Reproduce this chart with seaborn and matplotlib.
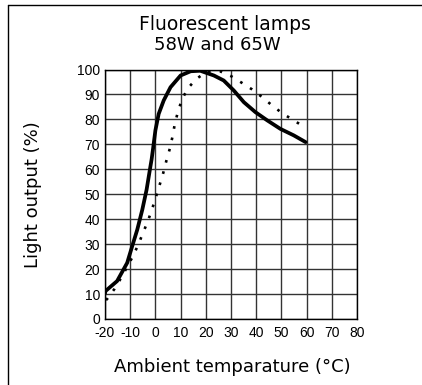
import matplotlib
matplotlib.use("Agg")
import matplotlib.pyplot as plt
import seaborn as sns
import pandas as pd

# Light output versus ambient temperature for 58W and 65W fluorescent lamps
temp_58w = [-20, -19.8, -15.2, -11.2, -9.2, -7.2, -5.2, -3.5, -2.2, -1.5, -0.9,
            0, 1.3, 3.3, 6, 10, 14, 17.8, 23.2, 27.1, 31.1, 35.1, 39.7, 44.4,
            49.6, 54.9, 59.6]
light_58w = [10.3, 11.2, 15.2, 22.5, 29.2, 35.8, 43.8, 51.8, 59.8, 64, 68.5,
             75.6, 82.2, 87.6, 92.9, 97.6, 99.3, 99.5, 97.6, 95.6, 91.6, 86.9,
             82.9, 79.6, 76.2, 73.6, 70.9]

temp_65w = [-19.6, -19.1, -16.2, -13.6, -11.2, -8.8, -6.8, -4.8, -3, -1.3, 0.2,
            1.7, 3.1, 4.4, 5.7, 6.9, 7.7, 8.9, 10.6, 13, 16.2, 20.5, 25.6, 30.1,
            34.4, 38.4, 42.4, 46.3, 50.3, 54.9, 59.2]
light_65w = [7.6, 8.1, 12.1, 16.5, 20.9, 25.4, 29.8, 34.8, 39.2, 44.1, 48.9,
             53.8, 58.5, 63.6, 68.2, 73.6, 78.2, 82.9, 88.2, 92.6, 96.2, 99.2,
             99.3, 97.3, 94.6, 92, 88.9, 85.6, 82.5, 79.6, 76.9]

x_ticks = [-20, -10, 0, 10, 20, 30, 40, 50, 60, 70, 80]
y_ticks = [0, 10, 20, 30, 40, 50, 60, 70, 80, 90, 100]

df_58 = pd.DataFrame({"temp": temp_58w, "light": light_58w})
df_65 = pd.DataFrame({"temp": temp_65w, "light": light_65w})

sns.set_style("white")
plt.rcParams["font.family"] = ["Liberation Sans", "DejaVu Sans"]
plt.rcParams["text.color"] = "black"
plt.rcParams["xtick.color"] = "black"
plt.rcParams["ytick.color"] = "black"
plt.rcParams["xtick.labelcolor"] = "black"
plt.rcParams["ytick.labelcolor"] = "black"

W, H = 422, 385
fig = plt.figure(figsize=(W / 100, H / 100), dpi=100)
ax = fig.add_axes([105 / W, 1 - 319 / H, (357 - 105) / W, (319 - 69.5) / H])

sns.lineplot(data=df_65, x="temp", y="light", ax=ax, color="black",
             linewidth=1.9, linestyle=(0, (1, 3.4)), sort=False)
sns.lineplot(data=df_58, x="temp", y="light", ax=ax, color="black",
             linewidth=2.7, sort=False, solid_capstyle="round",
             solid_joinstyle="round")

ax.set_xlim(-20, 80)
ax.set_ylim(0, 100)
ax.set_xticks(x_ticks)
ax.set_yticks(y_ticks)
ax.set_xticklabels([str(t) for t in x_ticks], fontsize=10, color="black")
ax.set_yticklabels([str(t) for t in y_ticks], fontsize=10, color="black")
ax.tick_params(axis="y", length=0, pad=3.6)
ax.tick_params(axis="x", length=0, pad=5)
ax.grid(True, color="#333333", linewidth=1.0)
ax.set_axisbelow(True)
for s in ax.spines.values():
    s.set_color("black")
    s.set_linewidth(1.0)
ax.set_xlabel("")
ax.set_ylabel("")

title_font = ["DejaVu Sans"]
fig.text(225 / W, 1 - 24 / H, "Fluorescent lamps", ha="center", va="center",
         fontsize=13.5, family=title_font, color="black")
fig.text(217 / W, 1 - 45 / H, "58W and 65W", ha="center", va="center",
         fontsize=13, family=title_font, color="black")
fig.text(33 / W, 1 - 195 / H, "Light output (%)", ha="center", va="center",
         rotation=90, fontsize=13, family=title_font, color="black")
fig.text(232 / W, 1 - 367 / H, "Ambient temparature (°C)", ha="center",
         va="center", fontsize=13, family=title_font, color="black")

# Partial border: top and left edges only
fig.add_artist(plt.Line2D([7.5 / W, 7.5 / W], [0, 1 - 5 / H], color="black",
                          linewidth=1.0, transform=fig.transFigure))
fig.add_artist(plt.Line2D([7.5 / W, 1], [1 - 5 / H, 1 - 5 / H], color="black",
                          linewidth=1.0, transform=fig.transFigure))

fig.savefig("out.png", dpi=100, facecolor="white")
